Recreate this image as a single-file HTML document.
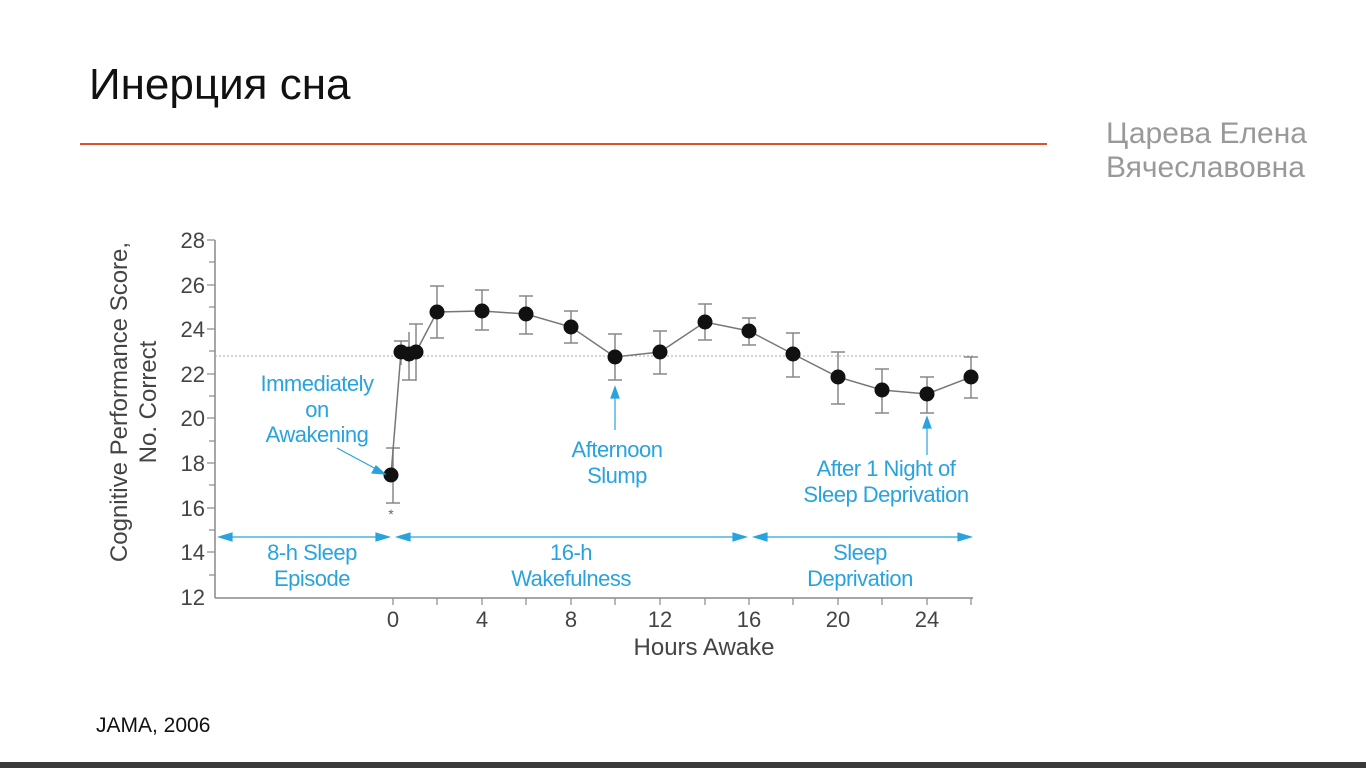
<!DOCTYPE html>
<html><head><meta charset="utf-8"><style>
body{margin:0;width:1366px;height:768px;background:#fff;position:relative;overflow:hidden;font-family:"Liberation Sans",sans-serif}
.t{position:absolute;left:89px;top:60px;font-size:44px;color:#111}
.a{position:absolute;left:1106px;top:117px;font-size:30px;line-height:34px;color:#999}
.line{position:absolute;left:80px;top:143px;width:967px;height:2px;background:#d9542c}
.j{position:absolute;left:96px;top:714px;font-size:21px;color:#111;font-family:"Liberation Sans",sans-serif}
.bar{position:absolute;left:0;top:762px;width:1366px;height:6px;background:#3a3a3a}
svg{position:absolute;left:0;top:0}
</style></head><body>
<div class="t">Инерция сна</div>
<div class="a">Царева Елена<br>Вячеславовна</div>
<div class="line"></div>
<svg width="1366" height="768" font-family="Liberation Sans, sans-serif">
<g stroke="#888" stroke-width="1.5" fill="none">
<line x1="215" y1="240" x2="215" y2="598"/><line x1="215" y1="598" x2="973" y2="598"/>
</g>
<g stroke="#888" stroke-width="1.2">
<line x1="207" y1="240" x2="215" y2="240"/><line x1="209" y1="262" x2="215" y2="262"/>
<line x1="207" y1="285" x2="215" y2="285"/><line x1="209" y1="307" x2="215" y2="307"/>
<line x1="207" y1="329" x2="215" y2="329"/><line x1="209" y1="351" x2="215" y2="351"/>
<line x1="207" y1="374" x2="215" y2="374"/><line x1="209" y1="396" x2="215" y2="396"/>
<line x1="207" y1="418" x2="215" y2="418"/><line x1="209" y1="441" x2="215" y2="441"/>
<line x1="207" y1="463" x2="215" y2="463"/><line x1="209" y1="485" x2="215" y2="485"/>
<line x1="207" y1="508" x2="215" y2="508"/><line x1="209" y1="530" x2="215" y2="530"/>
<line x1="207" y1="552" x2="215" y2="552"/><line x1="209" y1="575" x2="215" y2="575"/>
<line x1="393" y1="598" x2="393" y2="605"/><line x1="437" y1="598" x2="437" y2="605"/><line x1="482" y1="598" x2="482" y2="605"/><line x1="526" y1="598" x2="526" y2="605"/><line x1="571" y1="598" x2="571" y2="605"/><line x1="615" y1="598" x2="615" y2="605"/><line x1="660" y1="598" x2="660" y2="605"/><line x1="705" y1="598" x2="705" y2="605"/><line x1="749" y1="598" x2="749" y2="605"/><line x1="793" y1="598" x2="793" y2="605"/><line x1="838" y1="598" x2="838" y2="605"/><line x1="882" y1="598" x2="882" y2="605"/><line x1="927" y1="598" x2="927" y2="605"/><line x1="971" y1="598" x2="971" y2="605"/>
</g>
<g font-size="22" fill="#444" text-anchor="end">
<text x="205" y="248">28</text><text x="205" y="293">26</text><text x="205" y="337">24</text><text x="205" y="382">22</text><text x="205" y="426">20</text><text x="205" y="471">18</text><text x="205" y="516">16</text><text x="205" y="560">14</text><text x="205" y="605">12</text>
</g>
<g font-size="22" fill="#444" text-anchor="middle">
<text x="393" y="627">0</text><text x="482" y="627">4</text><text x="571" y="627">8</text><text x="660" y="627">12</text><text x="749" y="627">16</text><text x="838" y="627">20</text><text x="927" y="627">24</text>
<text x="704" y="655" font-size="24">Hours Awake</text>
<text transform="translate(127,402) rotate(-90)" font-size="24">Cognitive Performance Score,</text>
<text transform="translate(156,402) rotate(-90)" font-size="24">No. Correct</text>
</g>
<line x1="215" y1="356" x2="973" y2="356" stroke="#aaa" stroke-dasharray="2,2"/>
<g stroke="#888" stroke-width="1.5">
<line x1="393" y1="448" x2="393" y2="503"/><line x1="386" y1="448" x2="400" y2="448"/><line x1="386" y1="503" x2="400" y2="503"/>
<line x1="401" y1="341" x2="401" y2="365"/><line x1="394" y1="341" x2="408" y2="341"/>
<line x1="409" y1="332" x2="409" y2="380"/><line x1="402" y1="380" x2="416" y2="380"/>
<line x1="416" y1="324" x2="416" y2="381"/><line x1="409" y1="324" x2="423" y2="324"/>
<line x1="437" y1="286" x2="437" y2="338"/><line x1="430" y1="286" x2="444" y2="286"/><line x1="430" y1="338" x2="444" y2="338"/>
<line x1="482" y1="290" x2="482" y2="330"/><line x1="475" y1="290" x2="489" y2="290"/><line x1="475" y1="330" x2="489" y2="330"/>
<line x1="526" y1="296" x2="526" y2="334"/><line x1="519" y1="296" x2="533" y2="296"/><line x1="519" y1="334" x2="533" y2="334"/>
<line x1="571" y1="311" x2="571" y2="343"/><line x1="564" y1="311" x2="578" y2="311"/><line x1="564" y1="343" x2="578" y2="343"/>
<line x1="615" y1="334" x2="615" y2="380"/><line x1="608" y1="334" x2="622" y2="334"/><line x1="608" y1="380" x2="622" y2="380"/>
<line x1="660" y1="331" x2="660" y2="374"/><line x1="653" y1="331" x2="667" y2="331"/><line x1="653" y1="374" x2="667" y2="374"/>
<line x1="705" y1="304" x2="705" y2="340"/><line x1="698" y1="304" x2="712" y2="304"/><line x1="698" y1="340" x2="712" y2="340"/>
<line x1="749" y1="318" x2="749" y2="345"/><line x1="742" y1="318" x2="756" y2="318"/><line x1="742" y1="345" x2="756" y2="345"/>
<line x1="793" y1="333" x2="793" y2="377"/><line x1="786" y1="333" x2="800" y2="333"/><line x1="786" y1="377" x2="800" y2="377"/>
<line x1="838" y1="352" x2="838" y2="404"/><line x1="831" y1="352" x2="845" y2="352"/><line x1="831" y1="404" x2="845" y2="404"/>
<line x1="882" y1="369" x2="882" y2="413"/><line x1="875" y1="369" x2="889" y2="369"/><line x1="875" y1="413" x2="889" y2="413"/>
<line x1="927" y1="377" x2="927" y2="413"/><line x1="920" y1="377" x2="934" y2="377"/><line x1="920" y1="413" x2="934" y2="413"/>
<line x1="971" y1="357" x2="971" y2="398"/><line x1="964" y1="357" x2="978" y2="357"/><line x1="964" y1="398" x2="978" y2="398"/>
</g>
<polyline fill="none" stroke="#777" stroke-width="1.5" points="391,475 401,352 409,353 416,352 437,312 482,311 526,314 571,327 615,357 660,352 705,322 749,331 793,354 838,377 882,390 927,394 971,377"/>
<g fill="#111">
<circle cx="391" cy="475" r="7.5"/><circle cx="401" cy="352" r="7.5"/><circle cx="409" cy="354" r="7.5"/><circle cx="416" cy="352" r="7.5"/><circle cx="437" cy="312" r="7.5"/><circle cx="482" cy="311" r="7.5"/><circle cx="526" cy="314" r="7.5"/><circle cx="571" cy="327" r="7.5"/><circle cx="615" cy="357" r="7.5"/><circle cx="660" cy="352" r="7.5"/><circle cx="705" cy="322" r="7.5"/><circle cx="749" cy="331" r="7.5"/><circle cx="793" cy="354" r="7.5"/><circle cx="838" cy="377" r="7.5"/><circle cx="882" cy="390" r="7.5"/><circle cx="927" cy="394" r="7.5"/><circle cx="971" cy="377" r="7.5"/>
</g>
<text x="391" y="519" font-size="14" fill="#666" text-anchor="middle">*</text>
<g stroke="#29a3de" stroke-width="1.2" fill="#29a3de">
<line x1="220" y1="537" x2="388" y2="537"/><line x1="398" y1="537" x2="745" y2="537"/><line x1="755" y1="537" x2="970" y2="537"/>
<polygon points="219,537 232,533 232,541"/><polygon points="389,537 376,533 376,541"/>
<polygon points="397,537 410,533 410,541"/><polygon points="746,537 733,533 733,541"/>
<polygon points="754,537 767,533 767,541"/><polygon points="971,537 958,533 958,541"/>
<line x1="337" y1="448" x2="378" y2="470"/><polygon points="385,474 372,473 376,466"/>
<line x1="615" y1="430" x2="615" y2="394"/><polygon points="615,387 611,398 619,398"/>
<line x1="927" y1="455" x2="927" y2="424"/><polygon points="927,417 923,428 931,428"/>
</g>
<g font-size="22" fill="#29a3de" text-anchor="middle" letter-spacing="-0.5">
<text x="317" y="391">Immediately</text><text x="317" y="417">on</text><text x="317" y="442">Awakening</text>
<text x="312" y="560">8-h Sleep</text><text x="312" y="586">Episode</text>
<text x="571" y="560">16-h</text><text x="571" y="586">Wakefulness</text>
<text x="617" y="457">Afternoon</text><text x="617" y="483">Slump</text>
<text x="886" y="476">After 1 Night of</text><text x="886" y="502">Sleep Deprivation</text>
<text x="860" y="560">Sleep</text><text x="860" y="586">Deprivation</text>
</g>
</svg>
<div class="j">JAMA, 2006</div>
<div class="bar"></div>
</body></html>
